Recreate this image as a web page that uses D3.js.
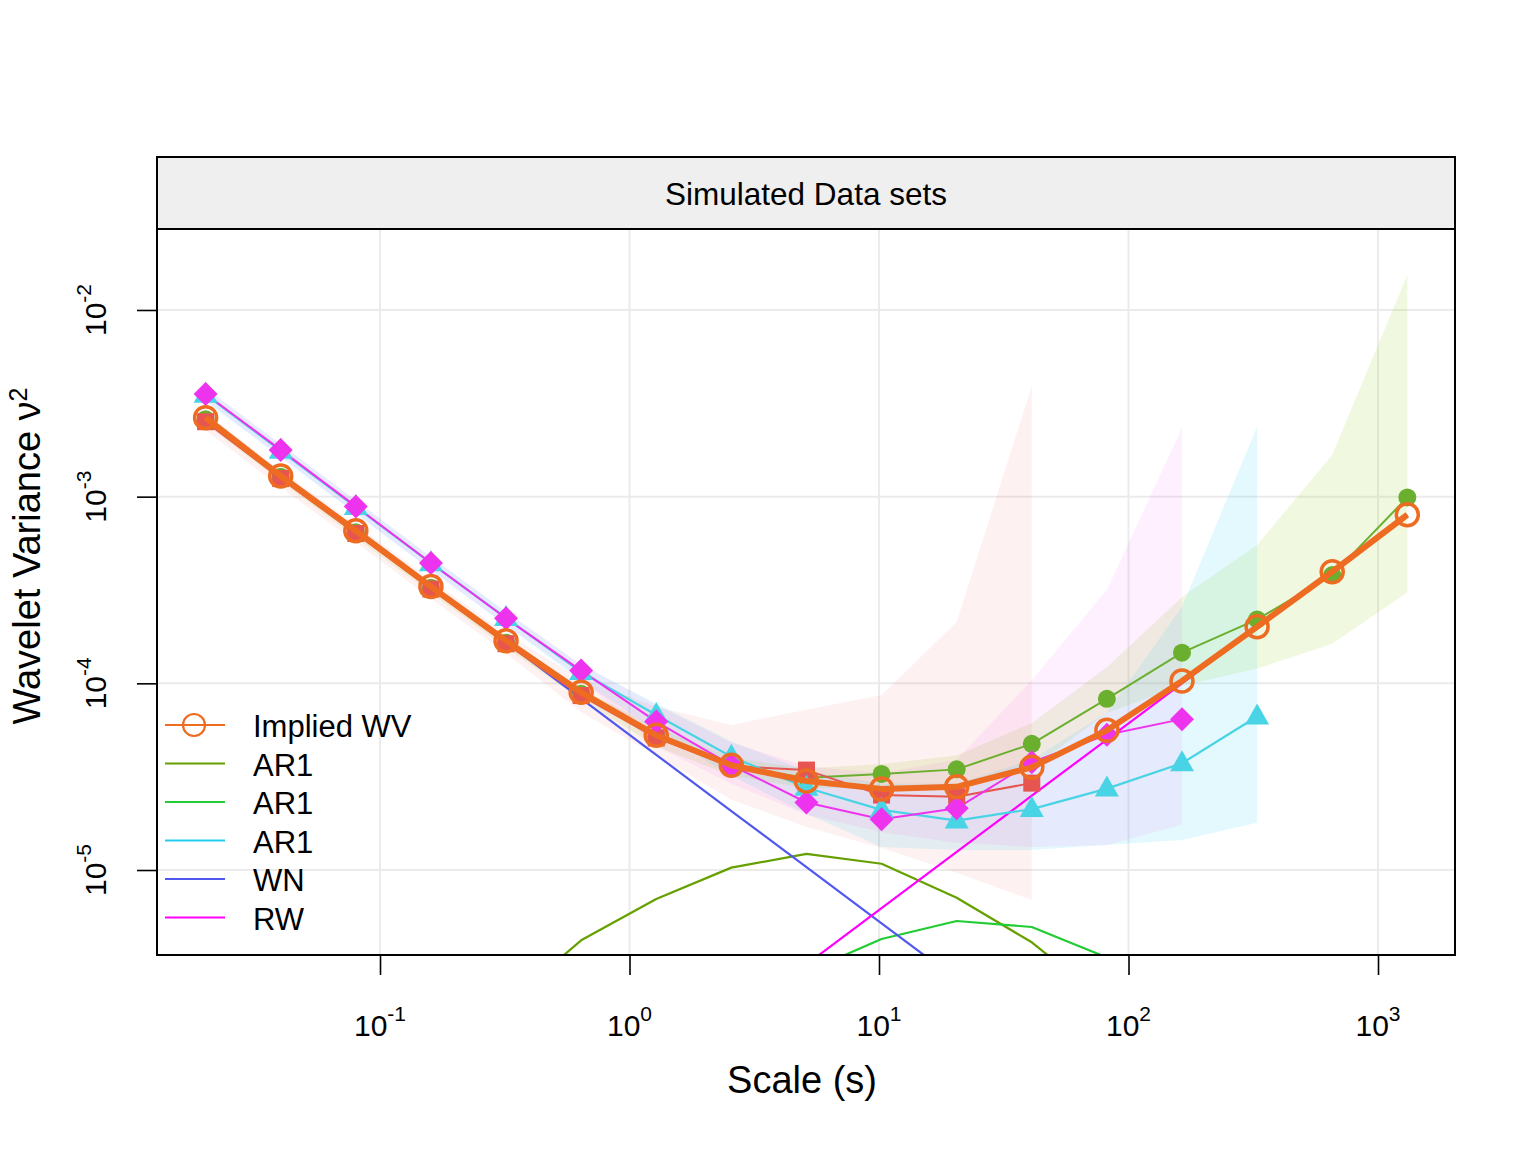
<!DOCTYPE html>
<html><head><meta charset="utf-8">
<script src="https://cdn.jsdelivr.net/npm/d3@7"></script>
<style>body{margin:0;background:#fff}svg{display:block;font-family:"Liberation Sans",Arial,Helvetica,sans-serif}</style>
</head><body><svg id="c" width="1536" height="1152"></svg>
<script>
// ---- data ----
const scales = [0.02,0.04,0.08,0.16,0.32,0.64,1.28,2.56,5.12,10.24,20.48,40.96,81.92,163.84,327.68,655.36,1310.72];
const implied = [2.65e-3,1.29e-3,6.57e-4,3.3e-4,1.69e-4,8.95e-5,5.27e-5,3.64e-5,3.0e-5,2.72e-5,2.79e-5,3.55e-5,5.6e-5,1.03e-4,2.01e-4,3.96e-4,8.0e-4];
// empirical WV of the four simulated data sets
const wvGreen = [2.6e-3,1.28e-3,6.45e-4,3.25e-4,1.65e-4,8.8e-5,5.19e-5,3.58e-5,3.12e-5,3.27e-5,3.46e-5,4.74e-5,8.26e-5,1.46e-4,2.2e-4,3.8e-4,9.9e-4];
const wvRed = [2.52e-3,1.25e-3,6.35e-4,3.2e-4,1.63e-4,8.6e-5,5.1e-5,3.6e-5,3.43e-5,2.52e-5,2.47e-5,2.92e-5];
const wvCyan = [3.52e-3,1.76e-3,8.8e-4,4.4e-4,2.24e-4,1.15e-4,6.76e-5,4.04e-5,2.76e-5,2.1e-5,1.84e-5,2.12e-5,2.73e-5,3.73e-5,6.64e-5];
const wvMag = [3.55e-3,1.78e-3,8.87e-4,4.41e-4,2.23e-4,1.17e-4,6.24e-5,3.64e-5,2.3e-5,1.87e-5,2.14e-5,3.78e-5,5.3e-5,6.43e-5];
// confidence bands
const loGreen = [2.45e-3,1.2e-3,6.05e-4,3.05e-4,1.55e-4,8.2e-5,4.6e-5,3.2e-5,2.75e-5,2.75e-5,2.85e-5,3.5e-5,6.95e-5,9.7e-5,1.2e-4,1.63e-4,3.07e-4];
const hiGreen = [2.76e-3,1.36e-3,6.85e-4,3.45e-4,1.75e-4,9.4e-5,5.8e-5,4.0e-5,3.5e-5,3.7e-5,4.1e-5,6.14e-5,1.22e-4,2.9e-4,5.51e-4,1.67e-3,1.54e-2];
const loRed = [2.27e-3,1.12e-3,5.7e-4,2.85e-4,1.45e-4,7.0e-5,4.1e-5,2.38e-5,1.7e-5,1.31e-5,9.66e-6,6.92e-6];
const hiRed = [2.8e-3,1.39e-3,7.1e-4,3.6e-4,1.85e-4,1.05e-4,7.48e-5,5.99e-5,7.21e-5,8.67e-5,2.13e-4,3.92e-3];
const loCyan = [3.25e-3,1.62e-3,8.1e-4,4.05e-4,2.05e-4,1.03e-4,5.6e-5,3.2e-5,2.0e-5,1.33e-5,1.28e-5,1.28e-5,1.36e-5,1.45e-5,1.79e-5];
const hiCyan = [3.8e-3,1.9e-3,9.5e-4,4.75e-4,2.42e-4,1.25e-4,7.8e-5,4.9e-5,3.4e-5,2.9e-5,2.9e-5,3.9e-5,6.95e-5,2.57e-4,2.37e-3];
const loMag = [3.27e-3,1.64e-3,8.15e-4,4.05e-4,2.05e-4,1.06e-4,4.6e-5,2.9e-5,1.98e-5,1.6e-5,1.4e-5,1.33e-5,1.36e-5,1.75e-5];
const hiMag = [3.83e-3,1.92e-3,9.6e-4,4.76e-4,2.41e-4,1.27e-4,7.66e-5,4.8e-5,3.6e-5,3.3e-5,3.9e-5,1.04e-4,3.17e-4,2.33e-3];
// model components (implied by the fitted model)
const ar1a = [1.6e-7,3.1e-7,6.2e-7,1.1e-6,1.9e-6,4.2e-6,7.0e-6,1.03e-5,1.22e-5,1.08e-5,7.1e-6,4.1e-6,1.94e-6,1.0e-6,5.0e-7,2.5e-7,1.25e-7];
const ar1b = [1.2e-8,2.4e-8,4.8e-8,9.6e-8,1.9e-7,3.8e-7,7.5e-7,1.5e-6,2.85e-6,4.27e-6,5.33e-6,4.95e-6,3.4e-6,2.0e-6,1.1e-6,5.5e-7,2.8e-7];
const wn = [2.65e-3,1.325e-3,6.62e-4,3.31e-4,1.66e-4,8.28e-5,4.14e-5,2.07e-5,1.035e-5,5.18e-6,2.59e-6,1.29e-6,6.5e-7,3.2e-7,1.6e-7,8.1e-8,4.0e-8];
const rw = [1.22e-8,2.44e-8,4.88e-8,9.76e-8,1.95e-7,3.9e-7,7.81e-7,1.56e-6,3.12e-6,6.25e-6,1.25e-5,2.5e-5,5.0e-5,1.0e-4,2.0e-4,4.0e-4,8.0e-4];
const legendLabels = ["Implied WV","AR1","AR1","AR1","WN","RW"];
const xTicks = [0.1,1,10,100,1000];
const xTickExp = ["-1","0","1","2","3"];
const yTicks = [1e-2,1e-3,1e-4,1e-5];
const yTickExp = ["-2","-3","-4","-5"];

// ---- layout ----
const L=157,R=1455,T=229,B=955,ST=157;
const svg = d3.select("#c");
const x = d3.scaleLog().domain([Math.pow(10,-1.8938),Math.pow(10,3.3086)]).range([L,R]);
const y = d3.scaleLog().domain([Math.pow(10,-5.4553),Math.pow(10,-1.5662)]).range([B,T]);

svg.append("defs").append("clipPath").attr("id","clip").append("rect")
  .attr("x",L).attr("y",T).attr("width",R-L).attr("height",B-T);

// grid
const grid = svg.append("g").attr("stroke","#ebebeb").attr("stroke-width",2);
xTicks.forEach(t=>grid.append("line").attr("x1",x(t)).attr("x2",x(t)).attr("y1",T).attr("y2",B));
yTicks.forEach(t=>grid.append("line").attr("x1",L).attr("x2",R).attr("y1",y(t)).attr("y2",y(t)));

const plot = svg.append("g").attr("clip-path","url(#clip)");

function band(lo,hi,color,op){
  const pts = lo.map((v,i)=>({s:scales[i],lo:v,hi:hi[i]}));
  const area = d3.area().x(d=>x(d.s)).y0(d=>y(d.lo)).y1(d=>y(d.hi));
  plot.append("path").attr("d",area(pts)).attr("fill",color).attr("fill-opacity",op).attr("stroke","none");
}
band(loGreen,hiGreen,"#a8d84a",0.17);
band(loRed,hiRed,"#f06060",0.09);
band(loCyan,hiCyan,"#30d0f0",0.13);
band(loMag,hiMag,"#f040f0",0.08);

const line = d3.line().x(d=>x(d[0])).y(d=>y(d[1]));
function series(vals,color,w){
  plot.append("path").attr("d",line(vals.map((v,i)=>[scales[i],v])))
    .attr("fill","none").attr("stroke",color).attr("stroke-width",w).attr("stroke-linejoin","round");
}
// components
series(ar1a,"#66a000",2.2);
series(ar1b,"#22cc33",2.2);
series(wn,"#5058f0",2.2);
series(rw,"#ff00ff",2.2);

// data sets
series(wvGreen,"#6ab02e",2);
series(wvRed,"#e65550",2);
series(wvCyan,"#48d4e4",2.2);
series(wvMag,"#ee33ee",2);

const gPts = plot.append("g");
wvGreen.forEach((v,i)=>gPts.append("circle").attr("cx",x(scales[i])).attr("cy",y(v)).attr("r",9).attr("fill","#6ab02e"));
wvRed.forEach((v,i)=>gPts.append("rect").attr("x",x(scales[i])-8.5).attr("y",y(v)-8.5).attr("width",17).attr("height",17).attr("fill","#e65550"));
wvCyan.forEach((v,i)=>{const cx=x(scales[i]),cy=y(v);
  gPts.append("path").attr("d",`M${cx},${cy-13}L${cx+12},${cy+8}L${cx-12},${cy+8}Z`).attr("fill","#48d4e4");});
wvMag.forEach((v,i)=>{const cx=x(scales[i]),cy=y(v);
  gPts.append("path").attr("d",`M${cx},${cy-12}L${cx+12},${cy}L${cx},${cy+12}L${cx-12},${cy}Z`).attr("fill","#ee33ee");});

// implied WV
series(implied,"#ee6c22",6);
implied.forEach((v,i)=>plot.append("circle").attr("cx",x(scales[i])).attr("cy",y(v)).attr("r",11)
  .attr("fill","none").attr("stroke","#ee6c22").attr("stroke-width",3.5));

// strip and frame
svg.append("rect").attr("x",L).attr("y",ST).attr("width",R-L).attr("height",T-ST)
  .attr("fill","#efefef").attr("stroke","#000").attr("stroke-width",2);
svg.append("text").attr("x",(L+R)/2).attr("y",205).attr("text-anchor","middle")
  .attr("font-size",31.5).text("Simulated Data sets");
svg.append("rect").attr("x",L).attr("y",T).attr("width",R-L).attr("height",B-T)
  .attr("fill","none").attr("stroke","#000").attr("stroke-width",2);

// axes ticks
const xa = svg.append("g").attr("transform",`translate(0,${B})`)
  .call(d3.axisBottom(x).tickValues(xTicks).tickSize(20).tickFormat(""));
const ya = svg.append("g").attr("transform",`translate(${L},0)`)
  .call(d3.axisLeft(y).tickValues(yTicks).tickSize(20).tickFormat(""));
[xa,ya].forEach(a=>{a.select(".domain").remove();a.selectAll("line").attr("stroke","#000").attr("stroke-width",1.6);});

xTicks.forEach((t,i)=>{
  const tx = svg.append("text").attr("x",x(t)).attr("y",1036).attr("text-anchor","middle").attr("font-size",30);
  tx.append("tspan").text("10");
  tx.append("tspan").attr("dy",-15).attr("font-size",21).text(xTickExp[i]);
});
yTicks.forEach((t,i)=>{
  const tx = svg.append("text").attr("transform",`translate(106,${y(t)}) rotate(-90)`).attr("text-anchor","middle").attr("font-size",30);
  tx.append("tspan").text("10");
  tx.append("tspan").attr("dy",-15).attr("font-size",21).text(yTickExp[i]);
});

// axis titles
svg.append("text").attr("x",802).attr("y",1093).attr("text-anchor","middle").attr("font-size",38).text("Scale (s)");
const yt = svg.append("text").attr("transform","translate(40,556) rotate(-90)").attr("text-anchor","middle").attr("font-size",38);
yt.append("tspan").text("Wavelet Variance \u03bd");
yt.append("tspan").attr("dy",-13).attr("font-size",25).text("2");

// legend
const legColors = ["#ee6c22","#66a000","#22cc33","#22ccf0","#5058f0","#ff00ff"];
const leg = svg.append("g");
legendLabels.forEach((lab,i)=>{
  const cy = 725 + i*38.5;
  leg.append("line").attr("x1",165).attr("x2",225).attr("y1",cy).attr("y2",cy)
    .attr("stroke",legColors[i]).attr("stroke-width",2.2);
  if(i===0) leg.append("circle").attr("cx",194).attr("cy",cy).attr("r",11).attr("fill","none")
    .attr("stroke",legColors[i]).attr("stroke-width",2.2);
  leg.append("text").attr("x",253).attr("y",cy+12).attr("font-size",31).text(lab);
});
</script></body></html>
